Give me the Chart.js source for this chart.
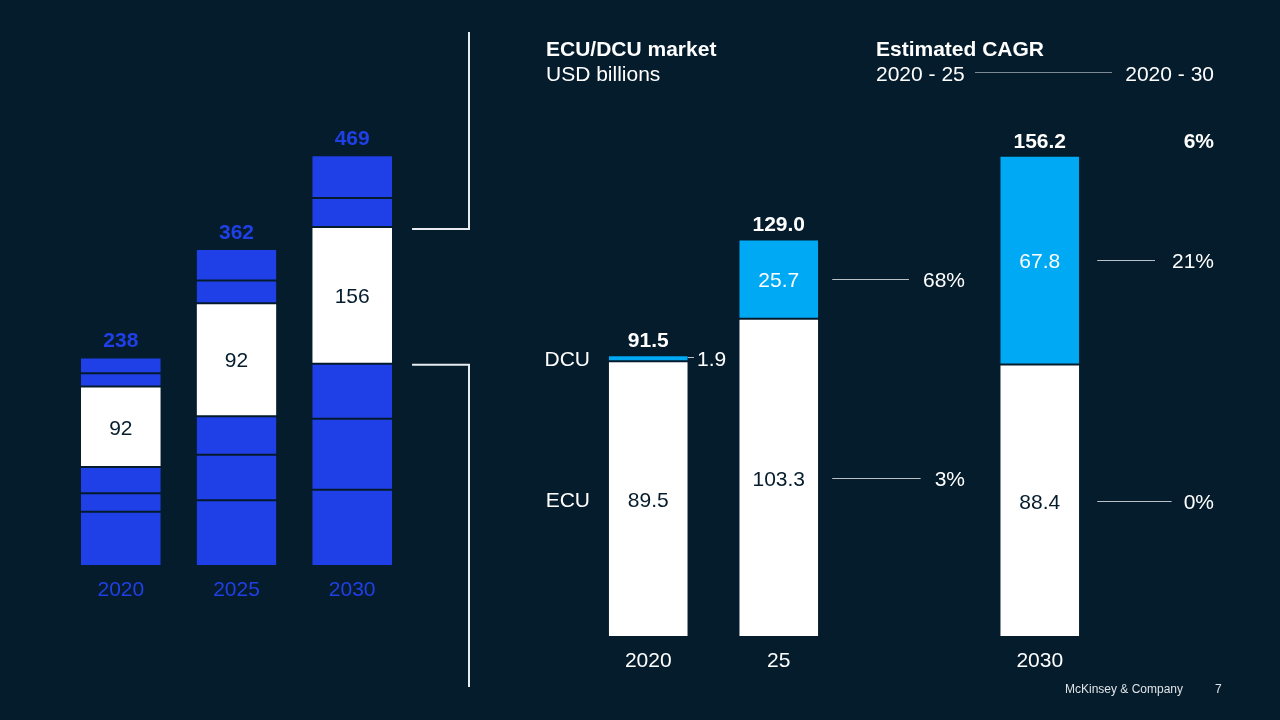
<!DOCTYPE html>
<html>
<head>
<meta charset="utf-8">
<script src="https://cdn.jsdelivr.net/npm/chart.js@4"></script>
<style>
  html, body { margin: 0; padding: 0; background: #051c2c; }
  .layer { position: absolute; left: 0; top: 0; width: 1280px; height: 720px; }
</style>
</head>
<body>
<div class="layer"><canvas id="semis-chart"></canvas></div>
<div class="layer"><canvas id="ecu-dcu-chart"></canvas></div>
<script>
// ---- left chart: total market, stacked segments (bottom -> top)
const years = ['2020', '2025', '2030'];
const seg_1 = [62, 75, 87];
const seg_2 = [21, 52, 81];
const seg_3 = [30, 44, 63];
const seg_ecu_dcu = [92, 129, 156];
const seg_5 = [15, 26, 33];
const seg_6 = [18, 36, 49];
const left_totals = ['238', '362', '469'];
const ecu_dcu_labels = ['92', '92', '156'];

// ---- right chart: ECU/DCU market, USD billions
const periods = ['2020', '25', '', '2030'];
const ecu = [89.5, 103.3, null, 88.4];
const dcu = [1.9, 25.7, null, 67.8];
const right_totals = ['91.5', '129.0', null, '156.2'];
const cagr_25 = { dcu: '68%', ecu: '3%' };
const cagr_30 = { total: '6%', dcu: '21%', ecu: '0%' };

const BG = '#051c2c';
const BLUE = '#1f40e6';
const CYAN = '#00a9f4';
const WHITE = '#ffffff';
const FONT = '"Liberation Sans", Arial, sans-serif';
const TY = 2; // canvas 'middle' sits a little high for this font

const segBorder = { top: 1, bottom: 1, left: 0, right: 0 };

function seg(data, color) {
  return {
    data: data,
    backgroundColor: color,
    borderColor: BG,
    borderWidth: segBorder,
    borderSkipped: false,
    barPercentage: 0.69,
    categoryPercentage: 1,
  };
}

function text(ctx, str, x, y) {
  ctx.fillText(str, x, y + TY);
}

const leftLabels = {
  id: 'leftLabels',
  afterDatasetsDraw(chart) {
    const ctx = chart.ctx;
    const topMeta = chart.getDatasetMeta(chart.data.datasets.length - 1);
    const whiteMeta = chart.getDatasetMeta(3);
    const base = chart.scales.y.getPixelForValue(0);
    ctx.save();
    ctx.textAlign = 'center';
    ctx.textBaseline = 'middle';
    years.forEach((yr, i) => {
      const bar = topMeta.data[i];
      ctx.fillStyle = BLUE;
      ctx.font = 'bold 21px ' + FONT;
      text(ctx, left_totals[i], bar.x, bar.y - 18);
      ctx.font = '21px ' + FONT;
      text(ctx, yr, bar.x, base + 22);
      const w = whiteMeta.data[i];
      ctx.fillStyle = BG;
      text(ctx, ecu_dcu_labels[i], w.x, (w.y + w.base) / 2);
    });

    // bracket to the right chart
    const last = whiteMeta.data[2];
    const x0 = last.x + last.width / 2 + 20;
    const x1 = 469;
    ctx.strokeStyle = '#e8ecef';
    ctx.lineWidth = 2;
    ctx.beginPath();
    ctx.moveTo(x0, last.y + 2);
    ctx.lineTo(x1, last.y + 2);
    ctx.lineTo(x1, 32);
    ctx.moveTo(x0, last.base + 1);
    ctx.lineTo(x1, last.base + 1);
    ctx.lineTo(x1, 687);
    ctx.stroke();
    ctx.restore();
  }
};

new Chart(document.getElementById('semis-chart'), {
  type: 'bar',
  data: {
    labels: years,
    datasets: [
      seg(seg_1, BLUE),
      seg(seg_2, BLUE),
      seg(seg_3, BLUE),
      seg(seg_ecu_dcu, WHITE),
      seg(seg_5, BLUE),
      seg(seg_6, BLUE),
    ],
  },
  options: {
    responsive: true,
    maintainAspectRatio: false,
    animation: false,
    layout: { padding: { left: 63, right: 870, top: 128, bottom: 154 } },
    plugins: { legend: { display: false }, tooltip: { enabled: false } },
    scales: {
      x: { stacked: true, display: false },
      y: { stacked: true, display: false, min: 0, max: 500 },
    },
  },
  plugins: [leftLabels],
});

function line(ctx, xa, xb, y) {
  ctx.beginPath();
  ctx.moveTo(xa, y + 0.5);
  ctx.lineTo(xb, y + 0.5);
  ctx.stroke();
}

// label right-aligned at xr, with a connector from xa up to the text
function cagrLabel(ctx, str, xa, xr, y, gap) {
  const w = ctx.measureText(str).width;
  line(ctx, xa, xr - w - gap, y);
  ctx.textAlign = 'right';
  text(ctx, str, xr, y);
}

const rightLabels = {
  id: 'rightLabels',
  afterDatasetsDraw(chart) {
    const ctx = chart.ctx;
    const ecuMeta = chart.getDatasetMeta(0);
    const dcuMeta = chart.getDatasetMeta(1);
    const base = chart.scales.y.getPixelForValue(0);
    ctx.save();
    ctx.textBaseline = 'middle';

    // headers
    ctx.fillStyle = WHITE;
    ctx.textAlign = 'left';
    ctx.font = 'bold 21px ' + FONT;
    text(ctx, 'ECU/DCU market', 546, 48);
    text(ctx, 'Estimated CAGR', 876, 48);
    ctx.font = '21px ' + FONT;
    text(ctx, 'USD billions', 546, 73);
    text(ctx, '2020 - 25', 876, 73);
    ctx.textAlign = 'right';
    text(ctx, '2020 - 30', 1214, 73);
    ctx.strokeStyle = '#7d8a94';
    ctx.lineWidth = 1;
    line(ctx, 975, 1112, 72);

    periods.forEach((p, i) => {
      if (ecu[i] === null) return;
      const e = ecuMeta.data[i];
      const d = dcuMeta.data[i];
      ctx.textAlign = 'center';
      ctx.fillStyle = WHITE;
      ctx.font = 'bold 21px ' + FONT;
      text(ctx, right_totals[i], d.x, d.y - 16);
      ctx.font = '21px ' + FONT;
      text(ctx, p, e.x, base + 22);
      ctx.fillStyle = BG;
      text(ctx, ecu[i].toFixed(1), e.x, (e.y + e.base) / 2);
      if (i > 0) {
        ctx.fillStyle = WHITE;
        text(ctx, dcu[i].toFixed(1), d.x, (d.y + d.base) / 2);
      }
    });

    // series names beside the 2020 bar
    const e0 = ecuMeta.data[0];
    const d0 = dcuMeta.data[0];
    ctx.fillStyle = WHITE;
    ctx.textAlign = 'right';
    text(ctx, 'DCU', 590, (d0.y + d0.base) / 2);
    text(ctx, 'ECU', 590, (e0.y + e0.base) / 2);
    ctx.textAlign = 'left';
    text(ctx, dcu[0].toFixed(1), 697, (d0.y + d0.base) / 2);
    ctx.strokeStyle = '#b9c1c7';
    line(ctx, e0.x + e0.width / 2, 694, Math.round((d0.y + d0.base) / 2) - 1);

    // CAGR call-outs
    ctx.strokeStyle = '#b9c1c7';
    const e1 = ecuMeta.data[1], d1 = dcuMeta.data[1];
    const r1 = e1.x + e1.width / 2 + 14;
    cagrLabel(ctx, cagr_25.dcu, r1, 965, Math.round((d1.y + d1.base) / 2), 14);
    cagrLabel(ctx, cagr_25.ecu, r1, 965, Math.round((e1.y + e1.base) / 2), 14);

    const e3 = ecuMeta.data[3], d3 = dcuMeta.data[3];
    const r3 = e3.x + e3.width / 2 + 18;
    cagrLabel(ctx, cagr_30.dcu, r3, 1214, Math.round((d3.y + d3.base) / 2), 17);
    cagrLabel(ctx, cagr_30.ecu, r3, 1214, Math.round((e3.y + e3.base) / 2), 12);
    ctx.font = 'bold 21px ' + FONT;
    ctx.textAlign = 'right';
    text(ctx, cagr_30.total, 1214, d3.y - 16);

    // footer
    ctx.font = '12px ' + FONT;
    ctx.fillStyle = '#dfe3e6';
    ctx.textAlign = 'left';
    ctx.fillText('McKinsey & Company', 1065, 690);
    ctx.fillText('7', 1215, 690);
    ctx.restore();
  }
};

new Chart(document.getElementById('ecu-dcu-chart'), {
  type: 'bar',
  data: {
    labels: periods,
    datasets: [
      { data: ecu, backgroundColor: WHITE, borderColor: BG, borderWidth: segBorder,
        borderSkipped: false, barPercentage: 0.605, categoryPercentage: 1 },
      { data: dcu, backgroundColor: CYAN, borderColor: BG, borderWidth: segBorder,
        borderSkipped: false, barPercentage: 0.605, categoryPercentage: 1 },
    ],
  },
  options: {
    responsive: true,
    maintainAspectRatio: false,
    animation: false,
    layout: { padding: { left: 583, right: 175, top: 144, bottom: 83 } },
    plugins: { legend: { display: false }, tooltip: { enabled: false } },
    scales: {
      x: { stacked: true, display: false },
      y: { stacked: true, display: false, min: 0, max: 160 },
    },
  },
  plugins: [rightLabels],
});
</script>
</body>
</html>
